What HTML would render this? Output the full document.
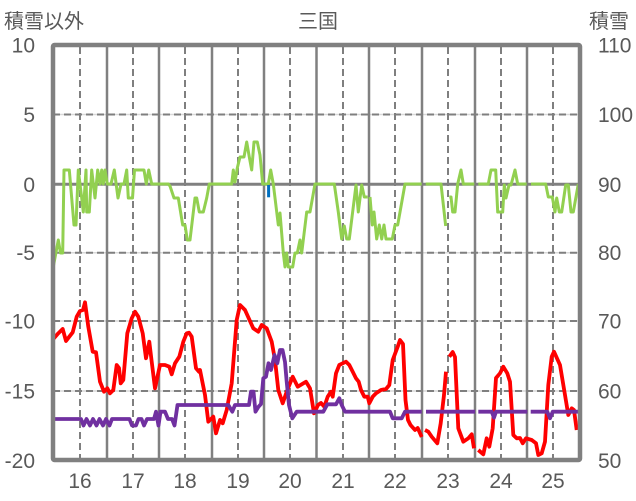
<!DOCTYPE html>
<html><head><meta charset="utf-8"><style>
html,body{margin:0;padding:0;background:#fff;}
svg{display:block;}
text{font-family:"Liberation Sans","Noto Sans CJK JP",sans-serif;fill:#595959;}
</style></head><body>
<svg width="636" height="501" viewBox="0 0 636 501" xmlns="http://www.w3.org/2000/svg">
<rect width="636" height="501" fill="#fff"/>
<!-- horizontal grid -->
<g stroke="#d9d9d9" stroke-width="1.5">
<line x1="53" y1="114.5" x2="580" y2="114.5"/>
<line x1="53" y1="252.7" x2="580" y2="252.7"/>
<line x1="53" y1="321" x2="580" y2="321"/>
<line x1="53" y1="391" x2="580" y2="391"/>
</g>
<g stroke="#7f7f7f" stroke-width="2" stroke-dasharray="7,4">
<line x1="53" y1="114.5" x2="580" y2="114.5"/>
<line x1="53" y1="252.7" x2="580" y2="252.7"/>
<line x1="53" y1="321" x2="580" y2="321"/>
<line x1="53" y1="391" x2="580" y2="391"/>
</g>
<!-- vertical dashed -->
<g stroke="#7f7f7f" stroke-width="2" stroke-dasharray="7,4">
<line x1="80" y1="47" x2="80" y2="458"/>
<line x1="133" y1="47" x2="133" y2="458"/>
<line x1="185" y1="47" x2="185" y2="458"/>
<line x1="238" y1="47" x2="238" y2="458"/>
<line x1="290" y1="47" x2="290" y2="458"/>
<line x1="343" y1="47" x2="343" y2="458"/>
<line x1="395" y1="47" x2="395" y2="458"/>
<line x1="448" y1="47" x2="448" y2="458"/>
<line x1="501" y1="47" x2="501" y2="458"/>
<line x1="553" y1="47" x2="553" y2="458"/>
</g>
<!-- vertical solid -->
<g stroke="#808080" stroke-width="2.5">
<line x1="107" y1="45" x2="107" y2="460"/>
<line x1="159" y1="45" x2="159" y2="460"/>
<line x1="212" y1="45" x2="212" y2="460"/>
<line x1="264" y1="45" x2="264" y2="460"/>
<line x1="316.5" y1="45" x2="316.5" y2="460"/>
<line x1="369" y1="45" x2="369" y2="460"/>
<line x1="422" y1="45" x2="422" y2="460"/>
<line x1="475" y1="45" x2="475" y2="460"/>
<line x1="527" y1="45" x2="527" y2="460"/>
</g>
<line x1="53" y1="184.3" x2="580" y2="184.3" stroke="#808080" stroke-width="3"/>

<!-- green -->
<g fill="none" stroke="#92D050" stroke-width="3" stroke-linejoin="round">
<polyline points="53.3,266.7 58.3,240 60.5,253 62.7,253 64,170 69.3,170 74,225 76,225 78.3,170 81.7,198 83.3,212 86,170 86.7,212 89.3,212 91.7,170 95,198 97.7,170 100,184 101.7,170 103.3,184 105,170 107.3,184 111,184 114.3,170 118,198 121,184 124,184 126.7,170 128.3,198 132.5,198 134.5,170 144,170 146.3,184 148.7,170 151.7,184 168.3,184 170,186 174,198 178.3,198 182.7,225 185,225 187.3,240 190,240 195,198 196.7,198 199.3,212 203.3,212 206.7,198 209.3,184 231.7,184 233.3,170 235,182 237.3,168 240,157 244,157 246.7,142 249.3,157 251.7,170 254,142 257.3,142 260,155 262.7,184 268.3,184 270.7,170 273.3,184 278.3,225 280,213 281,225 283.3,253 285,267 286.7,253 288.3,267 292.7,267 295,253 297.3,253 300,240 301.7,253 306.7,212 310,212 315,184 334.3,184 338.3,212 341.7,239 344.3,226 346.7,239 349.3,239 356,185 358.3,212 361.7,185 364.3,197 367.7,197"/>
<polyline points="370,197 372.3,225 374,212 376.7,239 379.3,225 381.7,239 384,225 386,239 392.3,239 395,225 397.7,225 405,184 421.7,184"/>
<polyline points="425.7,184 441,184 445.7,226"/>
<polyline points="449.3,197 451,197 452.7,212 455,212 457.7,184 461,170 463.3,184 474.3,184"/>
<polyline points="478.3,184 488.3,184 491,170 495.7,170 497.7,212 502.7,212 504.3,185 506,198 509,185 511,185 515,170 517.7,184 526.7,184"/>
<polyline points="531,184 545.7,184 548.3,197 552.3,197 555,212 556.7,198 559.3,212 561.7,212 565.7,185 568.3,185 571,212 573.3,212 578.3,184"/>
</g>

<!-- red -->
<g fill="none" stroke="#FF0000" stroke-width="3.8" stroke-linejoin="round">
<polyline points="53.3,339 58.3,333.3 62.7,329 66,341 69.3,336.7 72.7,332.3 76.7,316.7 80,311 83,310 85,302.3 88.3,326.7 92.7,351.7 96,352.3 100,381.7 104,391.7 107.3,388.3 110,393.3 113.3,390 116.7,365 119,368 120.7,383.3 123.3,380 127.3,333.3 131.7,318.3 135,311.7 138.3,316.7 142.7,333.3 146,358.3 149.3,341.7 151.7,361.7 155,388.3 160,365 165,365 169.3,366.7 171.7,374.3 175,363.3 179.3,356.7 183.3,341.7 186.7,333.3 189,332.7 191.7,336.7 196,368.3 199,371.7 200,370 205,395 208.3,421.7 213.3,416.7 216,433.3 220,420 222.7,423.3 226.7,410 231.7,383.3 236.7,320 240,305 245,310 253.3,328.3 258.3,331.7 261.7,325 266.7,328.3 271.7,341.7 275,360 278.3,390 282.7,403.3 286.7,391.7 292.7,376.7 297.7,386.7 306,381.7 310,388.3 314,413.3 318,405 321,403 324.3,406.7 327.7,396.7 331,391.7 332.7,396.7 336,373.3 339.3,365 342.7,363.3 346,361.7 349.3,365 352.7,371.7 356,378.3 358.7,381.7 361,390 364.3,396.7 367.7,396.7 369.3,403.3 372.7,396.7 376,393.3 381,390 386,389 389.3,385 392.7,360 397.7,346.7 400,340 403,344 405.5,400 408,420 410.5,425 415,430 417.7,428 421.7,437"/>
<polyline points="425,430 428.3,431.7 431.7,436.7 437.3,443.3 440.7,423.3 444,395 446,371.7"/>
<polyline points="449.3,356.7 452.7,352 455,357 458.3,428.3 463.3,441.7 468.3,438.3 471.7,434.3 474,448.3"/>
<polyline points="478.3,450 483.3,454.3 486.7,438.3 489.3,446.7 492.7,428.3 496,378 500,373.3 503.3,366.7 507.3,373.3 510,381.7 513.3,435 516.7,438.3 520,438 522.7,443.3 526,438.3 531.7,440 536,443.3 538.3,455 541.7,453.3 545,441.7 548.3,385 551.7,356.7 554,351.7 560,365 565,395 568.3,415 571.7,408.3 574,410 576.7,430"/>
</g>

<!-- purple -->
<g fill="none" stroke="#7030A0" stroke-width="3.8" stroke-linejoin="round">
<polyline points="53,419 81,419 83.5,425.5 86.5,419 90,425.5 93,419 96.5,425.5 99.5,419 103,425.5 106,419 109.5,425.5 112,419 129.5,419 132,425.5 136,425.5 138.5,419 141.5,419 144,425.5 147,419 154,419 156,411.7 158.5,425.5 160.5,411.7 165,411.7 168,419 172,419 174.5,425.5 177.5,405 228.3,405 232.3,411.7 235,405 249,405 251,391.7 253.5,391.7 255.5,411.7 258.3,407 261,404 263.3,378.3 266,376.7 268.5,363.3 271,370 274.5,355 277.3,363.3 280,350 282.5,350 285,362 286.7,381.7 289,405 292.3,418.3 296.7,411.7 323.3,411.7 327.3,404.3 336,404.3 339.3,398.3 341.7,405 345,411.7 390,411.7 392.7,418.3 401.7,418.3 405,411.7 421.7,411.7"/>
<polyline points="426,411.7 475,411.7"/>
<polyline points="478.3,411.7 491.7,411.7 494,417.7 496,411.7 527.3,411.7"/>
<polyline points="530.7,411.7 547.3,411.7 550,418.3 552.7,411.7 578.3,411.7"/>
</g>

<!-- blue -->
<line x1="268.6" y1="185" x2="268.6" y2="197.3" stroke="#0070C0" stroke-width="3"/>

<!-- plot border -->
<rect x="53" y="45" width="527" height="415" fill="none" stroke="#808080" stroke-width="4.5" rx="1.5"/>

<!-- titles -->
<text x="4" y="28" font-size="20">積雪以外</text>
<text x="318" y="28" font-size="20" text-anchor="middle">三国</text>
<text x="589" y="28" font-size="20">積雪</text>

<!-- left ticks -->
<g font-size="21" text-anchor="end">
<text x="35" y="52.5">10</text>
<text x="35" y="122">5</text>
<text x="35" y="191.8">0</text>
<text x="35" y="260.2">-5</text>
<text x="35" y="328.5">-10</text>
<text x="35" y="398.5">-15</text>
<text x="35" y="467.8">-20</text>
</g>
<!-- right ticks -->
<g font-size="21">
<text x="598" y="52.5">110</text>
<text x="598" y="122">100</text>
<text x="598" y="191.8">90</text>
<text x="598" y="260.2">80</text>
<text x="598" y="328.5">70</text>
<text x="598" y="398.5">60</text>
<text x="598" y="467.8">50</text>
</g>
<!-- bottom ticks -->
<g font-size="21" text-anchor="middle">
<text x="80" y="488">16</text>
<text x="133" y="488">17</text>
<text x="185" y="488">18</text>
<text x="238" y="488">19</text>
<text x="290" y="488">20</text>
<text x="343" y="488">21</text>
<text x="395" y="488">22</text>
<text x="448" y="488">23</text>
<text x="501" y="488">24</text>
<text x="553" y="488">25</text>
</g>
</svg>
</body></html>
